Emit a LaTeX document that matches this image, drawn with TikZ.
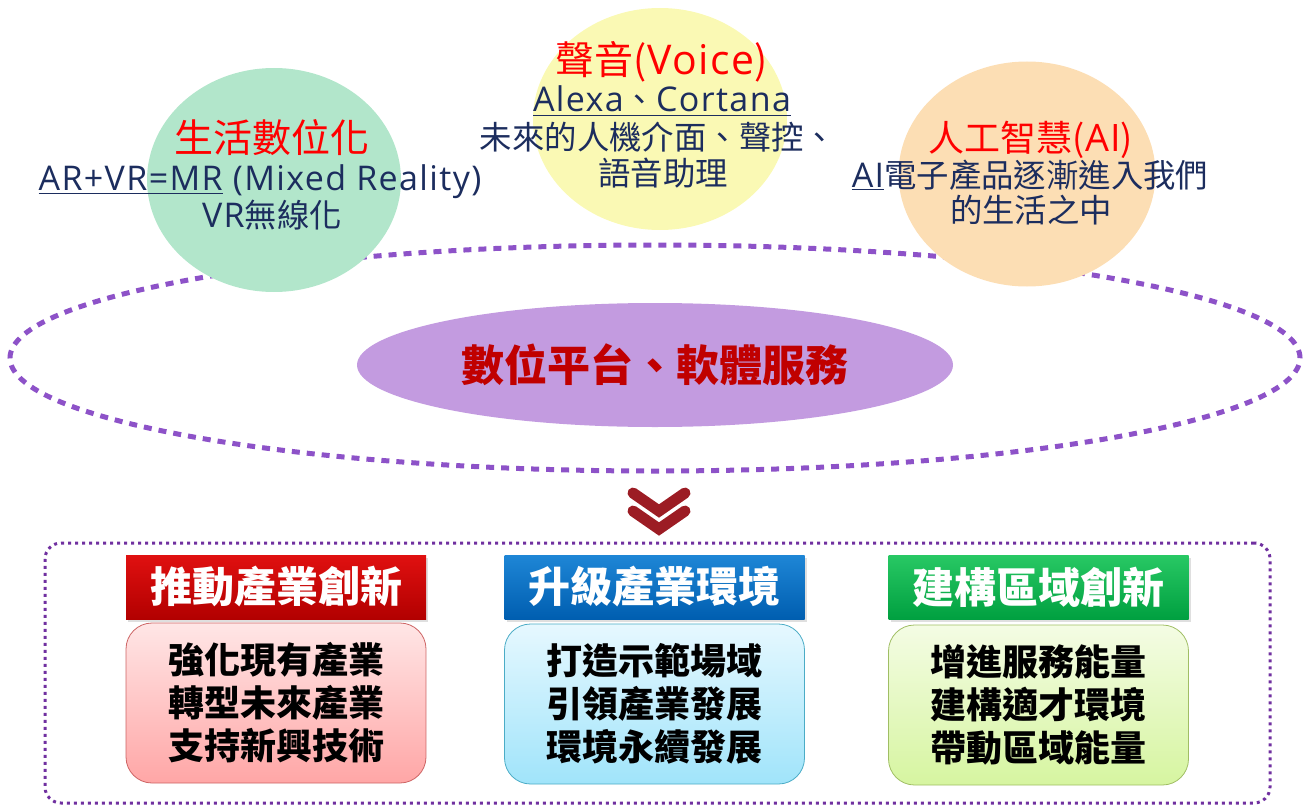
\documentclass[tikz,border=0pt]{standalone}
\usepackage{fontspec}
\setmainfont{Noto Sans CJK TC}
\newfontfamily\lat[Scale=1.05,LetterSpace=4]{Open Sans}
\usetikzlibrary{shapes.geometric,shadows}
\definecolor{navy}{RGB}{28,45,94}
\definecolor{lifegreen}{RGB}{178,230,203}
\definecolor{voiceyellow}{RGB}{250,249,180}
\definecolor{aiorange}{RGB}{252,222,180}
\definecolor{dashpurple}{RGB}{141,82,200}
\definecolor{corepurple}{RGB}{195,155,224}
\definecolor{darkred}{RGB}{192,0,0}
\definecolor{chevred}{RGB}{156,28,36}
\definecolor{framepurple}{RGB}{112,48,160}
\tikzstyle{bubble}=[ellipse, inner sep=0pt]

\begin{document}
\begin{tikzpicture}[x=0.5pt,y=-0.5pt]

\tikzstyle{title}=[anchor=base, inner sep=0pt, text=red, font=\fontsize{19.5}{22}\selectfont]
\tikzstyle{line}=[anchor=base, inner sep=0pt, text=navy, font=\fontsize{16.2}{19}\selectfont]
\tikzstyle{head}=[rectangle, minimum width=150pt, minimum height=32pt, text=white, font=\bfseries\fontsize{21}{24}\selectfont, drop shadow={opacity=0.25, shadow xshift=1pt, shadow yshift=-1.5pt}]
\tikzstyle{body}=[rectangle, rounded corners=13pt, minimum width=150pt, minimum height=80pt, align=center, draw, thin, font=\bfseries\fontsize{18}{21.5}\selectfont]
\tikzstyle{chev}=[line width=5.5pt, line cap=round, chevred]

\useasboundingbox (0,0) rectangle (1311,808);

% platform ring
\node (ring) [bubble, draw=dashpurple, line width=2.5pt, dash pattern=on 4pt off 3.5pt, minimum width=645pt, minimum height=113pt] at (655,358) {};

% three topics
\node (life) [bubble, fill=lifegreen, minimum width=127pt, minimum height=112pt] at (274,180) {};
\node (voice) [bubble, fill=voiceyellow, minimum width=127pt, minimum height=111pt] at (660,119) {};
\node (ai) [bubble, fill=aiorange, minimum width=128.5pt, minimum height=112.5pt] at (1027,174) {};

\node (lifeT) [title] at (272,152) {生活數位化};
\node (lifeA) [line] at (260,191) {\lat\underline{AR+VR=MR} (Mixed Reality)};
\node (lifeB) [line] at (272,227) {{\lat VR}無線化};

\node (voiceT) [title] at (662,75) {聲音({\lat Voice})};
\node (voiceA) [line] at (662,112) {\underline{{\lat Alexa}、{\lat Cortana}}};
\node (voiceB) [line] at (658,149) {未來的人機介面、聲控、};
\node (voiceC) [line] at (663,185) {語音助理};

\node (aiT) [title, font=\fontsize{18}{21}\selectfont] at (1031,151) {人工智慧({\lat AI})};
\node (aiA) [line] at (1030,187) {\underline{\lat AI}電子產品逐漸進入我們};
\node (aiB) [line] at (1031,222) {的生活之中};

\node (core) [bubble, fill=corepurple, minimum width=298pt, minimum height=62pt, text=darkred, font=\bfseries\fontsize{21.5}{24}\selectfont] at (655,365) {數位平台、軟體服務};

% down marker
\draw[chev] (633,493) -- (659,511) -- (685,493);
\draw[chev] (633,511) -- (659,529) -- (685,511);

% goals frame
\node (frame) [rectangle, rounded corners=8pt, draw=framepurple, line width=1.5pt, dash pattern=on 1.5pt off 2pt, minimum width=612.5pt, minimum height=130pt] at (657.5,673) {};

\node (innov) [head, top color={rgb,255:red,224;green,16;blue,16}, bottom color={rgb,255:red,178;green,0;blue,0}] at (276,587) {推動產業創新};
\node (upgrade) [head, top color={rgb,255:red,30;green,134;blue,214}, bottom color={rgb,255:red,0;green,94;blue,176}] at (654.5,587) {升級產業環境};
\node (region) [head, top color={rgb,255:red,40;green,200;blue,100}, bottom color={rgb,255:red,0;green,160;blue,64}] at (1038.5,587) {建構區域創新};

\node (innovB) [body, draw={rgb,255:red,205;green,100;blue,100}, top color={rgb,255:red,255;green,230;blue,230}, bottom color={rgb,255:red,255;green,166;blue,166}] at (276,703) {強化現有產業\\轉型未來產業\\支持新興技術};
\node (upgradeB) [body, draw={rgb,255:red,75;green,172;blue,198}, top color={rgb,255:red,230;green,248;blue,255}, bottom color={rgb,255:red,160;green,228;blue,250}] at (654.5,704) {打造示範場域\\引領產業發展\\環境永續發展};
\node (regionB) [body, draw={rgb,255:red,160;green,190;blue,100}, top color={rgb,255:red,244;green,252;blue,228}, bottom color={rgb,255:red,214;green,245;blue,160}] at (1038.5,705) {增進服務能量\\建構適才環境\\帶動區域能量};

\end{tikzpicture}
\end{document}
